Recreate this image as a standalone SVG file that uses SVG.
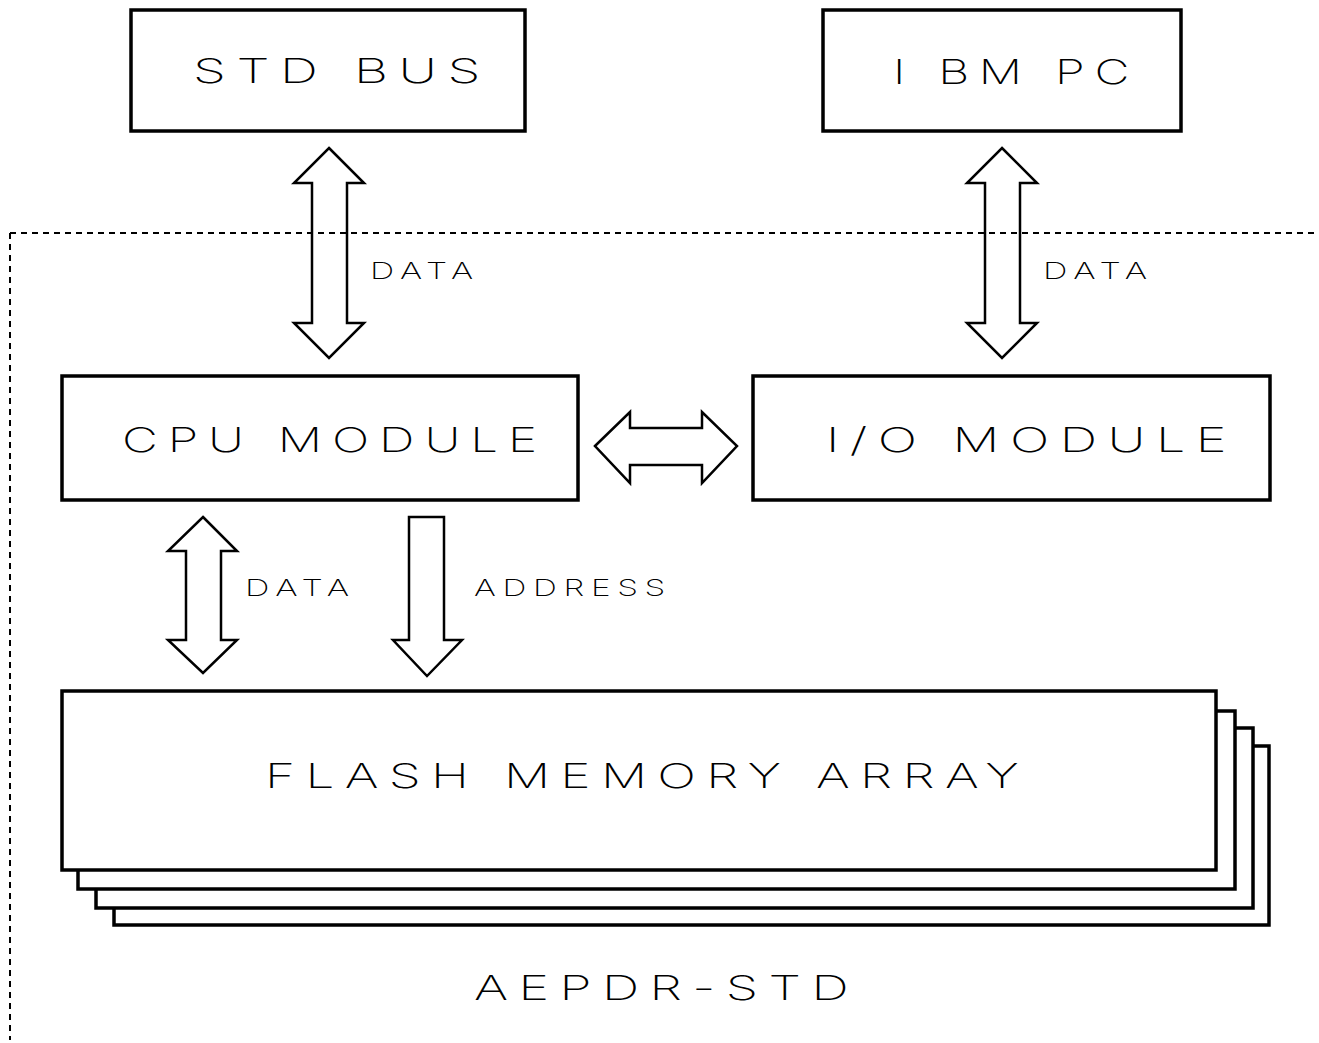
<svg xmlns="http://www.w3.org/2000/svg" width="1319" height="1043" viewBox="0 0 1319 1043">
<style>
.box{fill:#fff;stroke:#000;stroke-width:3.5}
.arr{fill:#fff;stroke:#000;stroke-width:2.5;stroke-linejoin:miter}
.dash{fill:none;stroke:#000;stroke-width:2;stroke-dasharray:6 5}
.t{font-family:Inter,"Liberation Sans",Arial,sans-serif;fill:#000;font-weight:250;letter-spacing:0.2em}
.big{font-size:34px}
.sm{font-size:23px}
</style>
<rect width="1319" height="1043" fill="#fff"/>
<g id="std-bus"><rect class="box" x="131" y="10" width="394" height="121"/><text class="t big" x="193" y="83" textLength="298" lengthAdjust="spacingAndGlyphs">STD BUS</text></g>
<g id="ibm-pc"><rect class="box" x="823" y="10" width="358" height="121"/><text class="t big" x="893" y="84" textLength="246" lengthAdjust="spacingAndGlyphs">I BM PC</text></g>
<g id="cpu-module"><rect class="box" x="62" y="376" width="516" height="124"/><text class="t big" x="122" y="452" textLength="425" lengthAdjust="spacingAndGlyphs">CPU MODULE</text></g>
<g id="io-module"><rect class="box" x="753" y="376" width="517" height="124"/><text class="t big" x="826" y="452" textLength="411" lengthAdjust="spacingAndGlyphs">I/O MODULE</text></g>
<g id="flash-memory-array">
<rect class="box" x="114" y="746" width="1155" height="179"/>
<rect class="box" x="96" y="728" width="1157" height="180"/>
<rect class="box" x="78" y="711" width="1157" height="178"/>
<rect class="box" x="62" y="691" width="1154" height="179"/>
<text class="t big" x="265" y="788" textLength="764" lengthAdjust="spacingAndGlyphs">FLASH MEMORY ARRAY</text>
</g>
<g id="connectors">
<path class="arr" d="M329 148 L364 183 L347 183 L347 323 L364 323 L329 358 L294 323 L312 323 L312 183 L294 183 Z"/>
<text class="t sm" x="370" y="279" textLength="110" lengthAdjust="spacingAndGlyphs">DATA</text>
<path class="arr" d="M1002 148 L1037 183 L1020 183 L1020 323 L1037 323 L1002 358 L967 323 L985 323 L985 183 L967 183 Z"/>
<text class="t sm" x="1043" y="279" textLength="111" lengthAdjust="spacingAndGlyphs">DATA</text>
<path class="arr" d="M595 446 L630 412 L630 428 L702 428 L702 412 L737 446 L702 483 L702 465 L630 465 L630 483 Z"/>
<path class="arr" d="M203 517 L237 551 L221 551 L221 640 L237 640 L203 673 L168 640 L186 640 L186 551 L168 551 Z"/>
<text class="t sm" x="245" y="596" textLength="111" lengthAdjust="spacingAndGlyphs">DATA</text>
<path class="arr" d="M409 517 L444 517 L444 640 L462 640 L427 676 L393 640 L409 640 Z"/>
<text class="t sm" x="474" y="596" textLength="198" lengthAdjust="spacingAndGlyphs">ADDRESS</text>
</g>
<g id="boundary">
<path class="dash" d="M10 233 H1319 M10 233 V1040"/>
</g>
<g id="title"><text class="t big" x="474" y="1000" textLength="385" lengthAdjust="spacingAndGlyphs">AEPDR-STD</text></g>
</svg>
